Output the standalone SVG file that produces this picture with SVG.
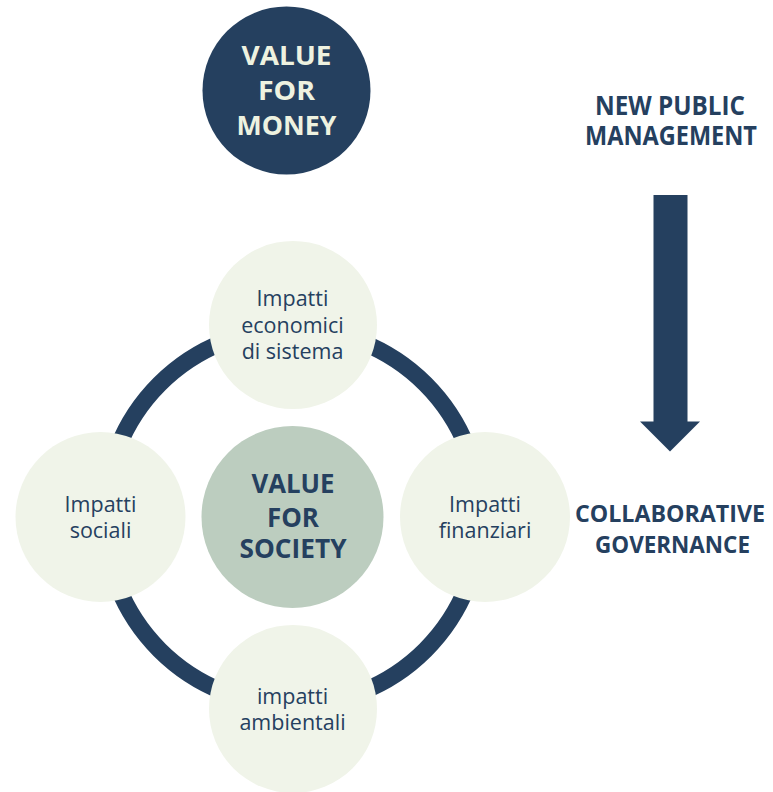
<svg xmlns="http://www.w3.org/2000/svg" width="773" height="792" viewBox="0 0 773 792">
  <style>
    .navy { fill: #25405f; }
    .pale { fill: #f0f4e9; }
    .sage { fill: #bccdbf; }
    .bold { font-family: "Open Sans", "Noto Sans", "Liberation Sans", sans-serif; font-weight: 700; text-anchor: middle; }
    .reg { font-family: "Open Sans", "Noto Sans", "Liberation Sans", sans-serif; font-weight: 400; font-size: 21.5px; fill: #25405f; text-anchor: middle; }
    .light { fill: #eef2e0; }
    .dark { fill: #25405f; }
  </style>
  <rect width="773" height="792" fill="#ffffff"/>

  <!-- ring linking the four impact areas -->
  <g id="connectors">
    <circle cx="292.5" cy="517" r="188" fill="none" stroke="#25405f" stroke-width="17"/>
  </g>

  <g id="value-for-money">
    <circle class="navy" cx="286.5" cy="90.5" r="84"/>
    <text class="bold light" font-size="27" x="286.5" y="65" textLength="90" lengthAdjust="spacingAndGlyphs">VALUE</text>
    <text class="bold light" font-size="27" x="286.5" y="100" textLength="57" lengthAdjust="spacingAndGlyphs">FOR</text>
    <text class="bold light" font-size="27" x="286.5" y="135" textLength="100" lengthAdjust="spacingAndGlyphs">MONEY</text>
  </g>

  <g id="new-public-management">
    <text class="bold dark" font-size="27" x="670" y="115" textLength="150" lengthAdjust="spacingAndGlyphs">NEW PUBLIC</text>
    <text class="bold dark" font-size="27" x="671" y="145" textLength="172" lengthAdjust="spacingAndGlyphs">MANAGEMENT</text>
  </g>

  <g id="shift-arrow">
    <polygon class="navy" points="653.5,195 687.5,195 687.5,421.5 700,421.5 670,451.5 640,421.5 653.5,421.5"/>
  </g>

  <g id="collaborative-governance">
    <text class="bold dark" font-size="24" x="670" y="521.5" textLength="190" lengthAdjust="spacingAndGlyphs">COLLABORATIVE</text>
    <text class="bold dark" font-size="24" x="672.5" y="553" textLength="155" lengthAdjust="spacingAndGlyphs">GOVERNANCE</text>
  </g>

  <g id="impatti-economici">
    <circle class="pale" cx="293" cy="325" r="84"/>
    <text class="reg" x="292.5" y="306">Impatti</text>
    <text class="reg" x="292.5" y="333">economici</text>
    <text class="reg" x="292.5" y="358.5">di sistema</text>
  </g>

  <g id="impatti-sociali">
    <circle class="pale" cx="100.5" cy="517" r="85"/>
    <text class="reg" x="100.5" y="511.5">Impatti</text>
    <text class="reg" x="100.5" y="538">sociali</text>
  </g>

  <g id="impatti-finanziari">
    <circle class="pale" cx="485" cy="517" r="85"/>
    <text class="reg" x="485" y="511.5">Impatti</text>
    <text class="reg" x="485" y="538">finanziari</text>
  </g>

  <g id="impatti-ambientali">
    <circle class="pale" cx="293" cy="709" r="84"/>
    <text class="reg" x="292.5" y="704">impatti</text>
    <text class="reg" x="292.5" y="730">ambientali</text>
  </g>

  <g id="value-for-society">
    <circle class="sage" cx="292.5" cy="517" r="91"/>
    <text class="bold dark" font-size="27" x="293" y="492.5" textLength="83" lengthAdjust="spacingAndGlyphs">VALUE</text>
    <text class="bold dark" font-size="27" x="293" y="526.5" textLength="52" lengthAdjust="spacingAndGlyphs">FOR</text>
    <text class="bold dark" font-size="27" x="293" y="557.5" textLength="107" lengthAdjust="spacingAndGlyphs">SOCIETY</text>
  </g>
</svg>
